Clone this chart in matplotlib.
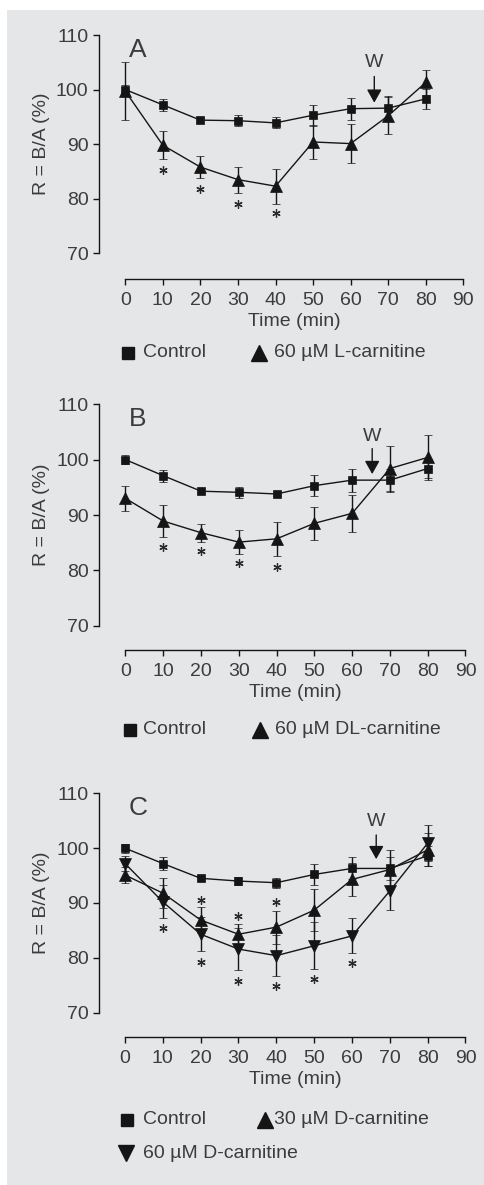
import matplotlib
matplotlib.use("Agg")
import matplotlib.pyplot as plt
from matplotlib.patches import Rectangle
import numpy as np

# ---------------- data ----------------
time = [0, 10, 20, 30, 40, 50, 60, 70, 80]

ctrl_a = [100.0, 97.2, 94.4, 94.3, 93.9, 95.3, 96.5, 96.6, 98.3]
ctrl_a_err = [0.8, 1.1, 0.4, 1.0, 1.0, 1.9, 2.0, 2.3, 1.8]
lcar = [99.7, 89.8, 85.8, 83.5, 82.3, 90.4, 90.1, 95.2, 101.3]
lcar_err = [5.3, 2.6, 2.0, 2.4, 3.2, 3.1, 3.6, 3.4, 2.3]
star_a_x = [10, 20, 30, 40]
star_a_y = [85.3, 81.8, 79.1, 77.3]

ctrl_b = [100.0, 97.1, 94.3, 94.1, 93.8, 95.3, 96.3, 96.3, 98.4]
ctrl_b_err = [0.8, 1.1, 0.4, 1.0, 0.4, 1.9, 2.1, 2.1, 1.8]
dlcar = [93.0, 88.9, 86.8, 85.1, 85.7, 88.5, 90.3, 98.4, 100.4]
dlcar_err = [2.2, 2.9, 1.6, 2.1, 3.1, 3.0, 3.3, 4.1, 4.1]
star_b_x = [10, 20, 30, 40]
star_b_y = [84.2, 83.5, 81.4, 80.6]

ctrl_c = [100.0, 97.2, 94.5, 94.0, 93.7, 95.2, 96.3, 96.3, 98.6]
ctrl_c_err = [0.8, 1.1, 0.4, 0.8, 0.9, 1.9, 2.0, 2.1, 1.8]
d30 = [95.1, 91.8, 86.9, 84.3, 85.6, 88.7, 94.3, 96.1, 99.7]
d30_err = [1.4, 2.7, 2.4, 1.9, 3.0, 3.8, 3.0, 3.5, 3.0]
d60 = [97.2, 90.2, 84.3, 81.6, 80.4, 82.2, 84.0, 92.2, 100.9]
d60_err = [1.3, 3.0, 3.1, 3.8, 3.8, 4.3, 3.2, 3.5, 3.3]
star_c_top_x = [20, 30, 40]
star_c_top_y = [90.5, 87.6, 90.1]
star_c_bot_x = [10, 20, 30, 40, 50, 60]
star_c_bot_y = [85.5, 79.3, 75.8, 74.9, 76.1, 79.1]

xticks = [0, 10, 20, 30, 40, 50, 60, 70, 80, 90]
yticks = [70, 80, 90, 100, 110]

# ---------------- style ----------------
W, H = 485, 1185
TXT = "#3c3c3c"
LINE = "#151515"
BG = "#e5e6e8"
plt.rcParams['font.family'] = ['Liberation Sans', 'DejaVu Sans']

fig = plt.figure(figsize=(W / 100, H / 100), dpi=100)
fig.patch.set_facecolor("white")
fig.patches.append(Rectangle((7 / W, 0), 1 - 7 / W, 1 - 10 / H,
                             transform=fig.transFigure, facecolor=BG,
                             edgecolor="none", zorder=-10))

XL = (-9, 93)
YL = (63, 113)


def make_ax(x0px, x90px, y70px, y110px, xaxis_px, yspine_px):
    ux = (x90px - x0px) / 90.0
    uy = (y70px - y110px) / 40.0
    left = x0px + XL[0] * ux
    right = x0px + XL[1] * ux
    top = y70px - (YL[1] - 70) * uy
    bot = y70px + (70 - YL[0]) * uy
    ax = fig.add_axes([left / W, 1 - bot / H, (right - left) / W, (bot - top) / H])
    ax.set_xlim(*XL)
    ax.set_ylim(*YL)
    ax.patch.set_alpha(0)
    for s in ("top", "right"):
        ax.spines[s].set_visible(False)
    ax.spines["left"].set_position(("data", (yspine_px - x0px) / ux))
    ax.spines["bottom"].set_position(("data", 70 - (xaxis_px - y70px) / uy))
    ax.spines["left"].set_bounds(70, 110)
    ax.spines["bottom"].set_bounds(0, 90)
    for s in ("left", "bottom"):
        ax.spines[s].set_color(LINE)
        ax.spines[s].set_linewidth(1.0)
    ax.set_xticks(xticks)
    ax.set_yticks(yticks)
    ax.tick_params(axis="both", direction="out", length=4.5, width=1.0,
                   color=LINE, labelcolor=TXT, labelsize=14)
    ax.tick_params(axis="x", pad=5)
    ax.tick_params(axis="y", pad=3)
    # labels
    xfrac = (45 - XL[0]) / (XL[1] - XL[0])
    ax.set_xlabel("Time (min)", fontsize=14, color=TXT)
    ax.xaxis.set_label_coords(xfrac, (bot - (xaxis_px + 42.5)) / (bot - top))
    ax.xaxis.label.set_va("center")
    ax.set_ylabel("R = B/A (%)", fontsize=14, color=TXT)
    ax.yaxis.set_label_coords((42 - left) / (right - left),
                              (bot - (y70px - 20 * uy)) / (bot - top))
    ax.yaxis.label.set_va("center")
    return ax


def series(ax, y, err, marker, ms):
    ax.errorbar(time, y, yerr=err, fmt="-", color=LINE, lw=1.0,
                elinewidth=1.0, capsize=2.6, capthick=1.0,
                marker=marker, ms=ms, mfc=LINE, mec=LINE, mew=0.5, zorder=3)


def stars(ax, xs, ys):
    ax.plot(xs, ys, ls="none", marker=(6, 2, 0), ms=6, mew=0.9,
            color="#2a2a2a", zorder=4)


def washout(ax, x, ytext, ytail, ytip):
    ax.text(x, ytext, "W", ha="center", va="center", fontsize=14, color=TXT)
    ax.annotate("", xy=(x, ytip), xytext=(x, ytail),
                arrowprops=dict(arrowstyle="-|>,head_length=0.8,head_width=0.45",
                                color=LINE, lw=1.0, shrinkA=0, shrinkB=0,
                                mutation_scale=10))


def panel_letter(ax, s, y):
    ax.text(0.9, y, s, ha="left", va="center", fontsize=19, color=TXT)


# overlay axes in pixel coordinates for legends
ov = fig.add_axes([0, 0, 1, 1])
ov.set_xlim(0, W)
ov.set_ylim(H, 0)
ov.axis("off")
ov.patch.set_alpha(0)


def legend_item(x, y, marker, ms, label, tx):
    ov.plot([x], [y], marker=marker, ms=ms, color=LINE, ls="none")
    ov.text(tx, y, label, ha="left", va="center", fontsize=14, color=TXT)


# ---------------- Panel A ----------------
axA = make_ax(125.3, 463.3, 253.3, 35.0, 279.3, 99.0)
series(axA, ctrl_a, ctrl_a_err, "s", 6)
series(axA, lcar, lcar_err, "^", 8)
stars(axA, star_a_x, star_a_y)
washout(axA, 66.3, 105.0, 102.4, 97.6)
panel_letter(axA, "A", 107.3)
legend_item(128, 352.5, "s", 9, "Control", 143)
legend_item(259, 352.5, "^", 11, "60 µM L-carnitine", 274)

# ---------------- Panel B ----------------
axB = make_ax(125.5, 465.5, 625.7, 404.3, 649.7, 99.3)
series(axB, ctrl_b, ctrl_b_err, "s", 6)
series(axB, dlcar, dlcar_err, "^", 8)
stars(axB, star_b_x, star_b_y)
washout(axB, 65.3, 104.2, 102.0, 97.4)
panel_letter(axB, "B", 107.3)
legend_item(130, 730, "s", 9, "Control", 143)
legend_item(260, 730, "^", 11, "60 µM DL-carnitine", 275)

# ---------------- Panel C ----------------
axC = make_ax(125.0, 465.5, 1012.7, 793.3, 1036.5, 99.5)
series(axC, ctrl_c, ctrl_c_err, "s", 6)
series(axC, d30, d30_err, "^", 8)
series(axC, d60, d60_err, "v", 8)
stars(axC, star_c_top_x, star_c_top_y)
stars(axC, star_c_bot_x, star_c_bot_y)
washout(axC, 66.4, 104.8, 102.4, 98.0)
panel_letter(axC, "C", 107.3)
legend_item(127, 1120, "s", 9, "Control", 143)
legend_item(265, 1120, "^", 11, "30 µM D-carnitine", 274)
legend_item(126, 1153, "v", 11, "60 µM D-carnitine", 143)

fig.savefig("out.png", dpi=100, facecolor=fig.get_facecolor())
